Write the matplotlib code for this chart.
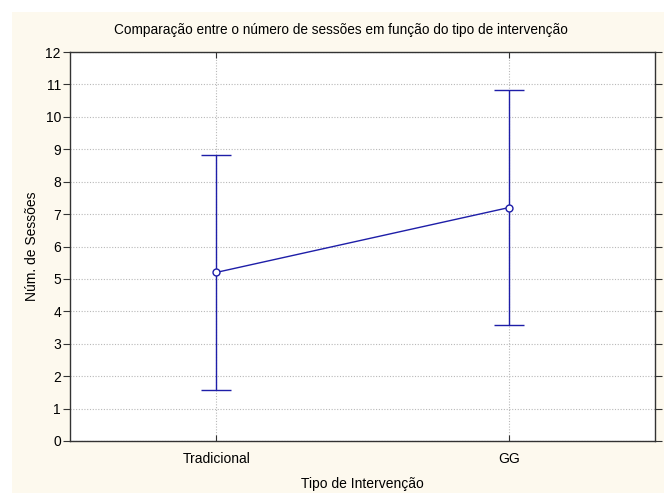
"""
Comparação do número de sessões por tipo de intervenção (média e intervalo).
"""
import matplotlib
matplotlib.use('Agg')
import matplotlib.pyplot as plt
from matplotlib.patches import Rectangle

categories = ['Tradicional', 'GG']
means = [5.2, 7.2]
lower = [1.57, 3.57]
upper = [8.83, 10.83]

title = 'Comparação entre o número de sessões em função do tipo de intervenção'
x_label = 'Tipo de Intervenção'
y_label = 'Núm. de Sessões'

line_colour = '#1e1ea8'
bg_colour = '#fdf9ee'


def main():
    plt.rcParams['font.family'] = ['Liberation Sans', 'DejaVu Sans']

    W, H = 664, 493
    figure = plt.figure(figsize=(W / 100, H / 100), dpi=100, facecolor='white')

    # cream panel behind everything, leaving a thin white margin top and left
    figure.patches.append(Rectangle((12 / W, 0), 1 - 12 / W, 1 - 12 / H,
                                    transform=figure.transFigure, facecolor=bg_colour,
                                    edgecolor='none', zorder=-10))

    ax = figure.add_axes([70 / W, 1 - 441 / H, 585 / W, (441 - 52) / H])
    ax.set_zorder(1)
    ax.set_facecolor('white')

    xs = list(range(len(categories)))
    yerr = [[m - lo for m, lo in zip(means, lower)], [up - m for m, up in zip(means, upper)]]
    ax.errorbar(xs, means, yerr=yerr, color=line_colour, linewidth=1.0, elinewidth=1.0,
                capsize=11, capthick=1.0, marker='o', markersize=5,
                markerfacecolor='white', markeredgecolor=line_colour, markeredgewidth=1.0,
                zorder=3)

    ax.set_xlim(-0.5, 1.5)
    ax.set_ylim(0, 12)
    ax.set_xticks(xs)
    ax.set_xticklabels(categories)
    ax.set_yticks(range(0, 13))

    ax.grid(True, linestyle=(0, (1, 1.5)), color='#b8b8b8', linewidth=0.8)
    ax.set_axisbelow(True)

    for spine in ax.spines.values():
        spine.set_color('#333333')
        spine.set_linewidth(1.0)

    ax.tick_params(axis='y', which='both', direction='out', length=5, width=0.8,
                   color='#333333', labelsize=10, right=True, pad=1.5)
    ax.tick_params(axis='x', direction='in', length=4, width=0.8, color='#333333',
                   labelsize=10, top=True, pad=8)

    ax.set_xlabel(x_label, fontsize=10, labelpad=8)
    ax.set_ylabel(y_label, fontsize=10, labelpad=5)
    # title sits a little left of the plot centre in the original
    figure.text(340.5 / W, 1 - 30 / H, title, fontsize=9.8, ha='center', va='center')

    plt.savefig('out.png', dpi=100, facecolor=figure.get_facecolor())
    plt.close()


if __name__ == "__main__":
    main()
